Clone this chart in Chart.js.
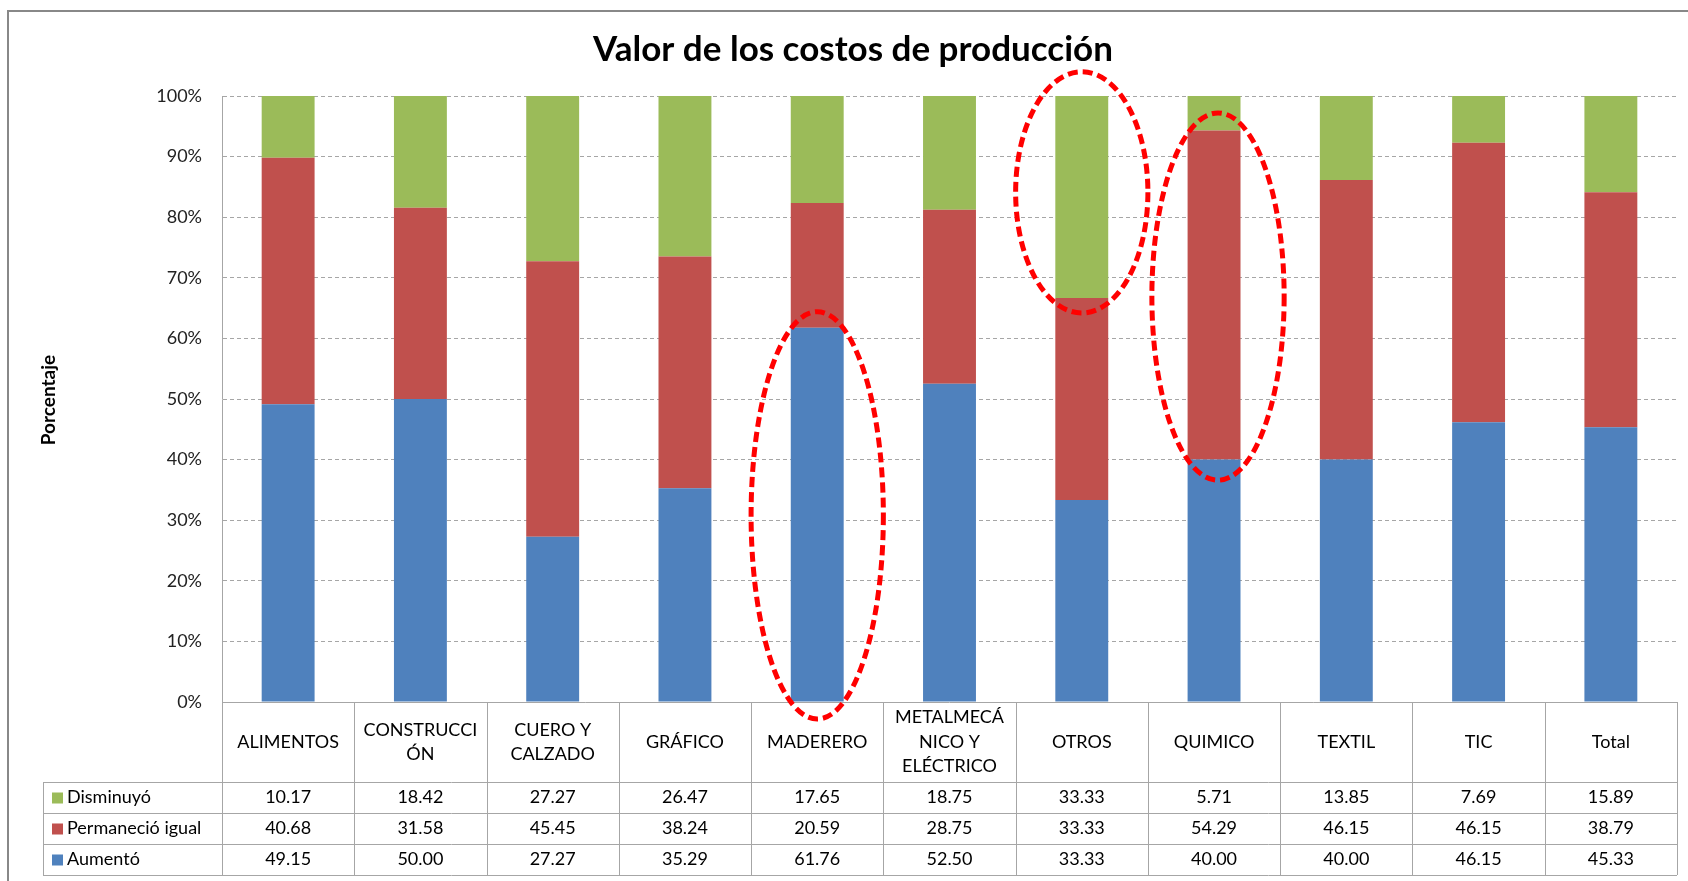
<!DOCTYPE html>
<html>
<head>
<meta charset="utf-8">
<title>Valor de los costos de producción</title>
<script src="https://cdn.jsdelivr.net/npm/chart.js@4.4.0/dist/chart.umd.min.js"></script>
<style>
  html, body { margin: 0; padding: 0; background: #fff; }
</style>
</head>
<body>
<canvas id="grafico" width="1688" height="881"></canvas>
<script>
// Datos del gráfico (porcentajes por sector)
const categorias = ["ALIMENTOS", "CONSTRUCCIÓN", "CUERO Y CALZADO", "GRÁFICO", "MADERERO",
  "METALMECÁNICO Y ELÉCTRICO", "OTROS", "QUIMICO", "TEXTIL", "TIC", "Total"];
const etiquetas = [["ALIMENTOS"], ["CONSTRUCCI", "ÓN"], ["CUERO Y", "CALZADO"], ["GRÁFICO"], ["MADERERO"],
  ["METALMECÁ", "NICO Y", "ELÉCTRICO"], ["OTROS"], ["QUIMICO"], ["TEXTIL"], ["TIC"], ["Total"]];
const disminuyo = [10.17, 18.42, 27.27, 26.47, 17.65, 18.75, 33.33, 5.71, 13.85, 7.69, 15.89];
const permanecio = [40.68, 31.58, 45.45, 38.24, 20.59, 28.75, 33.33, 54.29, 46.15, 46.15, 38.79];
const aumento = [49.15, 50.00, 27.27, 35.29, 61.76, 52.50, 33.33, 40.00, 40.00, 46.15, 45.33];
const marcasY = [0, 10, 20, 30, 40, 50, 60, 70, 80, 90, 100];

// Elipses rojas (categoría, desplazamiento, valor superior e inferior en %)
const elipseCat = [4, 6, 7];
const elipseDesp = [0, 0, 0.03];
const elipseArriba = [64.4, 104, 97.2];
const elipseAbajo = [-2.8, 64.2, 36.6];

const fuente = "Lato, 'Open Sans', sans-serif";
const gris = "#a6a6a6";

// Título, marco exterior y etiqueta del eje
const marcoPlugin = {
  id: "marco",
  beforeDraw(chart) {
    const ctx = chart.ctx;
    ctx.save();
    ctx.fillStyle = "#fff";
    ctx.fillRect(0, 0, chart.width, chart.height);
    ctx.strokeStyle = "#888";
    ctx.lineWidth = 2;
    ctx.strokeRect(8, 11, chart.width + 20, chart.height + 20);
    ctx.fillStyle = "#000";
    ctx.textAlign = "center";
    ctx.textBaseline = "middle";
    ctx.font = "bold 35px " + fuente;
    ctx.fillText("Valor de los costos de producción", 853, 50);
    ctx.translate(49, 400);
    ctx.rotate(-Math.PI / 2);
    ctx.font = "bold 19px " + fuente;
    ctx.fillText("Porcentaje", 0, 0);
    ctx.restore();
  }
};

// Tabla de datos bajo el gráfico
const tablaPlugin = {
  id: "tabla",
  afterDraw(chart) {
    const { ctx, chartArea, scales } = chart;
    const x = scales.x;
    const izq = chartArea.left, der = chartArea.right, arriba = chartArea.bottom;
    const altoEnc = 80, altoFila = 31, colLeyenda = 43;
    const ancho = (der - izq) / categorias.length;
    const filas = chart.data.datasets.slice().reverse();
    const abajo = arriba + altoEnc + altoFila * filas.length;

    ctx.save();
    ctx.strokeStyle = gris;
    ctx.lineWidth = 1;
    ctx.beginPath();
    ctx.moveTo(izq, arriba + 0.5); ctx.lineTo(der, arriba + 0.5);
    for (let r = 0; r <= filas.length; r++) {
      const yy = Math.round(arriba + altoEnc + r * altoFila) + 0.5;
      ctx.moveTo(colLeyenda, yy); ctx.lineTo(der, yy);
    }
    for (let i = 0; i <= categorias.length; i++) {
      const xx = Math.round(izq + i * ancho) + 0.5;
      ctx.moveTo(xx, arriba); ctx.lineTo(xx, abajo);
    }
    ctx.moveTo(colLeyenda + 0.5, arriba + altoEnc); ctx.lineTo(colLeyenda + 0.5, abajo);
    ctx.stroke();

    ctx.fillStyle = "#000";
    ctx.textBaseline = "middle";
    ctx.textAlign = "center";
    ctx.font = "18px " + fuente;
    etiquetas.forEach((lineas, i) => {
      const cx = x.getPixelForValue(i);
      const cy = arriba + altoEnc / 2;
      const alto = 24.5;
      lineas.forEach((t, k) => {
        ctx.fillText(t, cx, cy + (k - (lineas.length - 1) / 2) * alto);
      });
    });

    filas.forEach((ds, r) => {
      const cy = arriba + altoEnc + r * altoFila + altoFila / 2;
      ctx.fillStyle = ds.backgroundColor;
      ctx.fillRect(colLeyenda + 9, cy - 5, 11, 11);
      ctx.fillStyle = "#000";
      ctx.textAlign = "left";
      ctx.fillText(ds.label, colLeyenda + 24, cy);
      ctx.textAlign = "center";
      ds.data.forEach((v, i) => {
        ctx.fillText(v.toFixed(2), x.getPixelForValue(i), cy);
      });
    });
    ctx.restore();

    // Elipses punteadas
    const y = scales.y;
    ctx.save();
    ctx.strokeStyle = "#ff0000";
    ctx.lineWidth = 5;
    ctx.setLineDash([10, 5]);
    elipseCat.forEach((c, k) => {
      const cx = x.getPixelForValue(c) + elipseDesp[k] * ancho;
      const y1 = y.getPixelForValue(elipseArriba[k]);
      const y2 = y.getPixelForValue(elipseAbajo[k]);
      ctx.beginPath();
      ctx.ellipse(cx, (y1 + y2) / 2, ancho * 0.5, (y2 - y1) / 2, 0, 0, Math.PI * 2);
      ctx.stroke();
    });
    ctx.restore();
  }
};

const ctx = document.getElementById("grafico").getContext("2d");
new Chart(ctx, {
  type: "bar",
  data: {
    labels: categorias,
    datasets: [
      { label: "Aumentó", data: aumento, backgroundColor: "#4f81bd" },
      { label: "Permaneció igual", data: permanecio, backgroundColor: "#c0504d" },
      { label: "Disminuyó", data: disminuyo, backgroundColor: "#9bbb59" }
    ]
  },
  options: {
    responsive: false,
    animation: false,
    devicePixelRatio: 1,
    layout: { padding: { left: 0, top: 96, right: 11, bottom: 179 } },
    datasets: { bar: { categoryPercentage: 0.8, barPercentage: 0.5 } },
    plugins: { legend: { display: false }, title: { display: false }, tooltip: { enabled: false } },
    scales: {
      x: { stacked: true, display: false },
      y: {
        stacked: true,
        min: 0,
        max: 100,
        afterFit: s => { s.width = 222; },
        afterBuildTicks: s => { s.ticks = marcasY.map(v => ({ value: v })); },
        ticks: { padding: 20, color: "#222", font: { family: fuente, size: 18 }, callback: v => v + "%" },
        grid: { color: gris, drawTicks: false, lineWidth: 1 },
        border: { display: true, color: gris, dash: [4, 3] }
      }
    }
  },
  plugins: [marcoPlugin, tablaPlugin]
});
</script>
</body>
</html>
